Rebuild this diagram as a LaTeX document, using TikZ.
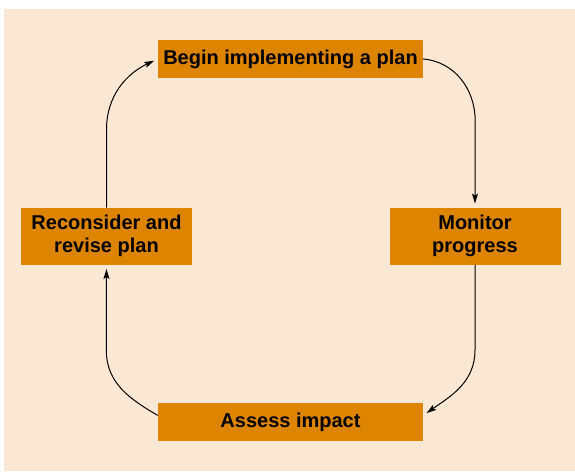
\documentclass[tikz,border=0pt]{standalone}
\usepackage{fontspec}
\setmainfont{Liberation Sans}
\usetikzlibrary{positioning}
\usetikzlibrary{arrows.meta}
\definecolor{peach}{RGB}{250,231,212}
\definecolor{amber}{RGB}{221,133,0}

\begin{document}
\begin{tikzpicture}[x=1pt, y=1pt,
    every node/.style = {shape=rectangle, fill=amber, inner sep=0pt, align=center,
                         font=\bfseries\fontsize{20}{23}\selectfont},
    wide/.style = {minimum width=265pt, minimum height=38pt},
    tall/.style = {minimum width=171pt, minimum height=57pt},
    flow/.style = {line width=1pt, -{Stealth[length=10pt, width=6pt, inset=2pt]}, shorten >=4pt}]
  \useasboundingbox (0,0) rectangle (575,471);
  \fill[peach] (4,0) rectangle (575,462);

  \node (begin) [wide] at (290.5,412) {Begin implementing a plan};
  \node (assess) [wide, below=325pt of begin] {Assess impact};
  \node (monitor) [tall] at (475,234.7) {Monitor\\progress};
  \node (revise) [tall] at (106.5,234.7) {Reconsider and\\revise plan};

  \draw[flow] (begin.east) to[out=-5, in=90] ++(52,-62) -- (monitor.north);
  \draw[flow] (monitor.south) -- ++(0,-85) to[out=-90, in=35] ([yshift=7pt]assess.east);
  \draw[flow] ([yshift=7pt]assess.west) to[out=150, in=-90] ++(-51.5,65) -- (revise.south);
  \draw[flow] (revise.north) -- ++(0,78) to[out=90, in=205] (begin.west);
\end{tikzpicture}
\end{document}
